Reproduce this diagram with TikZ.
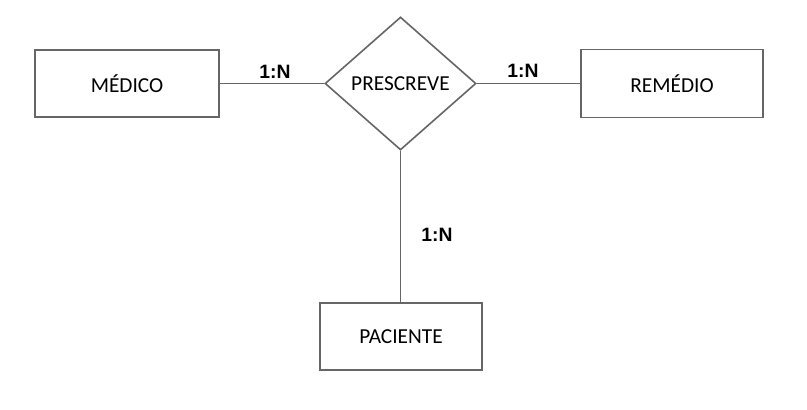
\documentclass[tikz,border=0pt]{standalone}
\usepackage{fontspec}
\setmainfont{Carlito}
\newfontfamily\labfont{Liberation Sans}
\usetikzlibrary{shapes.geometric}
\definecolor{edgegray}{HTML}{666666}
\begin{document}
\begin{tikzpicture}[x=0.75pt,y=-0.75pt,
  entity/.style={draw=edgegray,line width=1.2pt,rectangle,inner sep=0pt,font=\fontsize{16pt}{19pt}\selectfont},
  relation/.style={draw=edgegray,line width=1.2pt,diamond,inner sep=0pt,minimum width=151*0.75pt,minimum height=133*0.75pt,font=\fontsize{16pt}{19pt}\selectfont},
  link/.style={draw=edgegray,line width=1.2pt},
  card/.style={font=\labfont\bfseries\fontsize{14.5pt}{17pt}\selectfont,inner sep=0pt}]
\useasboundingbox (0,0) rectangle (807,410);
\fill[white] (0,0) rectangle (807,410);
\node[entity,minimum width=184*0.75pt,minimum height=67*0.75pt] (medico) at (127,83.5) {MÉDICO};
\node[relation] (rel) at (400.5,83.5) {PRESCREVE};
\node[entity,minimum width=182*0.75pt,minimum height=68*0.75pt] (remedio) at (672,83.5) {REMÉDIO};
\node[entity,minimum width=162*0.75pt,minimum height=67*0.75pt] (paciente) at (401,336.5) {PACIENTE};
\draw[link] (medico.east) -- (rel.west);
\draw[link] (rel.east) -- (remedio.west);
\draw[link] (rel.south) -- (rel.south |- paciente.north);
\node[card] (c1) at (275,72) {1:N};
\node[card] (c2) at (523,70.5) {1:N};
\node[card] (c3) at (437,235) {1:N};
\end{tikzpicture}
\end{document}
